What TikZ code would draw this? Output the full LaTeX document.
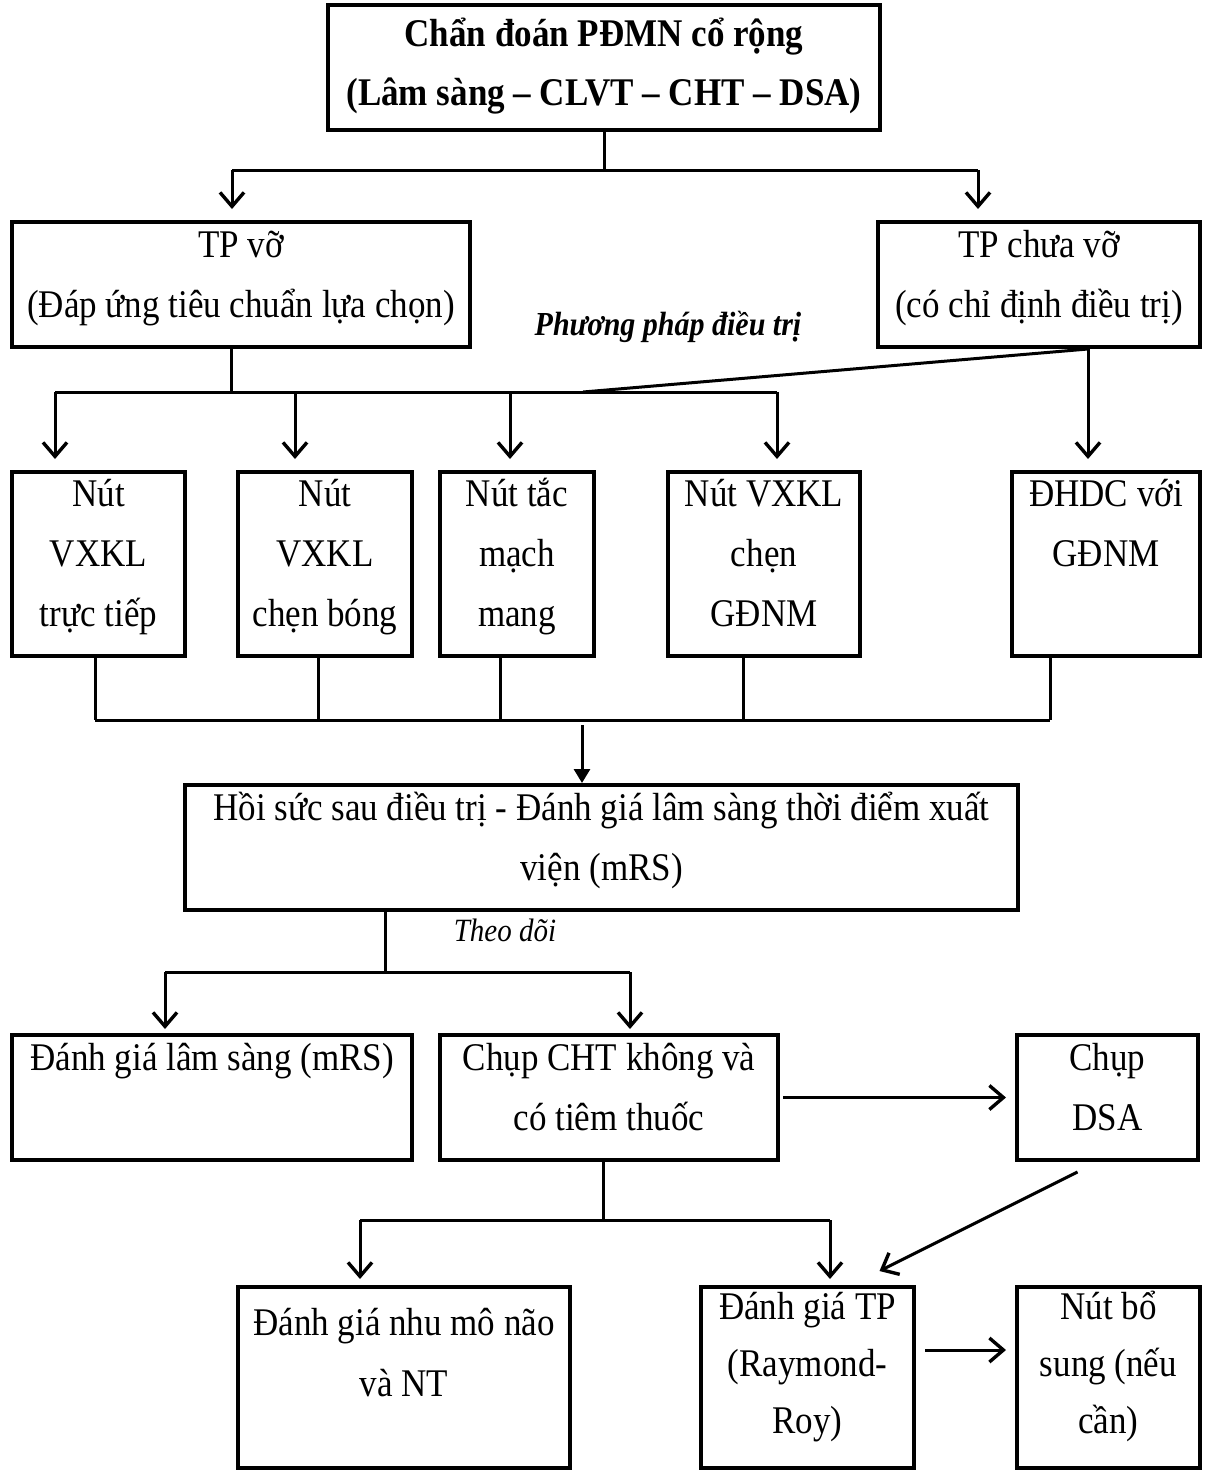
\documentclass[tikz,border=0pt]{standalone}
\usepackage{fontspec}
\usepackage{graphicx}
\setmainfont{Liberation Serif}
\usetikzlibrary{arrows.meta,fit}
\newcommand\ml[2][60]{\scalebox{1}[1.12]{\vtop{\baselineskip=\dimexpr #1pt*100/112\relax\lineskiplimit=-100pt\halign{\hfil##\hfil\cr#2\crcr}}}}
\tikzset{
  box/.style={draw, line width=4pt, inner sep=0pt, outer sep=0pt},
  conn/.style={line width=3pt},
  arr/.style={conn, -{Straight Barb[length=14pt,width=24pt,line width=3.4pt]}, shorten >=13pt},
  farr/.style={conn, -{Triangle[length=14pt,width=16pt]}, shorten >=2pt},
  txt/.style={anchor=base, inner sep=0pt, font=\fontsize{35}{60}\selectfont},
}
\begin{document}
\begin{tikzpicture}[x=1pt,y=-1pt]
\useasboundingbox (0,0) rectangle (1214,1470);
% boxes
\node[box, fit={(328,5) (880,130)}] (top) {};
\node[box, fit={(12,222) (470,347)}] (tpv) {};
\node[box, fit={(878,222) (1200,347)}] (tpc) {};
\node[box, fit={(12,472) (185,656)}] (b1) {};
\node[box, fit={(238,472) (412,656)}] (b2) {};
\node[box, fit={(440,472) (594,656)}] (b3) {};
\node[box, fit={(668,472) (860,656)}] (b4) {};
\node[box, fit={(1012,472) (1200,656)}] (b5) {};
\node[box, fit={(185,785) (1018,910)}] (hs) {};
\node[box, fit={(12,1035) (412,1160)}] (ls) {};
\node[box, fit={(440,1035) (778,1160)}] (cht) {};
\node[box, fit={(1017,1035) (1198,1160)}] (dsa) {};
\node[box, fit={(238,1287) (570,1468)}] (nm) {};
\node[box, fit={(701,1287) (914,1468)}] (tp) {};
\node[box, fit={(1017,1287) (1200,1468)}] (nbs) {};
% texts
\node[txt, font=\fontsize{35}{60}\selectfont\bfseries] (ttop) at (604,46) {\ml[59]{Chẩn đoán PĐMN cổ rộng\cr(Lâm sàng – CLVT – CHT – DSA)}};
\node[txt] (ttpv) at (241,257) {\ml{TP vỡ\cr(Đáp ứng tiêu chuẩn lựa chọn)}};
\node[txt] (ttpc) at (1039,257) {\ml{TP chưa vỡ\cr(có chỉ định điều trị)}};
\node[txt, font=\fontsize{30}{36}\selectfont\bfseries\itshape] (tpp) at (668,335) {\ml{Phương pháp điều trị}};
\node[txt] (tb1) at (98.5,506) {\ml{Nút\cr VXKL\cr trực tiếp}};
\node[txt] (tb2) at (325,506) {\ml{Nút\cr VXKL\cr chẹn bóng}};
\node[txt] (tb3) at (517,506) {\ml{Nút tắc\cr mạch\cr mang}};
\node[txt] (tb4) at (764,506) {\ml{Nút VXKL\cr chẹn\cr GĐNM}};
\node[txt] (tb5) at (1106,506) {\ml{ĐHDC với\cr GĐNM}};
\node[txt] (ths) at (601.5,820) {\ml{Hồi sức sau điều trị - Đánh giá lâm sàng thời điểm xuất\cr viện (mRS)}};
\node[txt, font=\fontsize{29}{36}\selectfont\itshape] (ttd) at (505,941) {\ml{Theo dõi}};
\node[txt] (tls) at (212,1070) {\ml{Đánh giá lâm sàng (mRS)}};
\node[txt] (tcht) at (609,1070) {\ml{Chụp CHT không và\cr có tiêm thuốc}};
\node[txt] (tdsa) at (1107.5,1070) {\ml{Chụp\cr DSA}};
\node[txt] (tnm) at (404,1335) {\ml[61]{Đánh giá nhu mô não\cr và NT}};
\node[txt] (ttp) at (807.5,1319) {\ml[57]{Đánh giá TP\cr(Raymond-\cr Roy)}};
\node[txt] (tnbs) at (1108.5,1319) {\ml[57]{Nút bổ\cr sung (nếu\cr cần)}};
% connectors: top level
\coordinate (j0) at (604,170);
\coordinate (jL) at (232,170);
\coordinate (jR) at (978,170);
\draw[conn] (top.south) -- (j0);
\draw[conn] (jL) -- (jR);
\draw[arr] (jL) -- (jL |- tpv.north);
\draw[arr] (jR) -- (jR |- tpc.north);
% treatment level
\coordinate (k0) at (231,392);
\coordinate (k1) at (55,392);
\coordinate (k2) at (295,392);
\coordinate (k3) at (510,392);
\coordinate (k4) at (777,392);
\coordinate (ks) at (583,392);
\coordinate (m0) at (1088,349);
\draw[conn] (k0 |- tpv.south) -- (k0);
\draw[conn] (k1) -- (k4);
\draw[conn] (m0) -- (ks);
\draw[arr] (k1) -- (k1 |- b1.north);
\draw[arr] (k2) -- (k2 |- b2.north);
\draw[arr] (k3) -- (k3 |- b3.north);
\draw[arr] (k4) -- (k4 |- b4.north);
\draw[arr] (m0 |- tpc.south) -- (m0 |- b5.north);
% merge to recovery
\coordinate (p1) at (95,720);
\coordinate (p2) at (318,720);
\coordinate (p3) at (500,720);
\coordinate (p4) at (743,720);
\coordinate (p5) at (1050,720);
\coordinate (q0) at (582,720);
\draw[conn] (p1 |- b1.south) -- (p1);
\draw[conn] (p2 |- b2.south) -- (p2);
\draw[conn] (p3 |- b3.south) -- (p3);
\draw[conn] (p4 |- b4.south) -- (p4);
\draw[conn] (p5 |- b5.south) -- (p5);
\draw[conn] (p1) -- (p5);
\draw[farr] ([yshift=-5pt]q0) -- (q0 |- hs.north);
% follow-up
\coordinate (r0) at (385,972);
\coordinate (rL) at (165,972);
\coordinate (rR) at (630,972);
\draw[conn] (r0 |- hs.south) -- (r0);
\draw[conn] (rL) -- (rR);
\draw[arr, shorten >=6pt] (rL) -- (rL |- ls.north);
\draw[arr, shorten >=6pt] (rR) -- (rR |- cht.north);
\draw[arr, shorten >=11pt] ([xshift=5pt]cht.east) -- (dsa.west);
% imaging results
\coordinate (t0) at (603,1220);
\coordinate (tL) at (360,1220);
\coordinate (tR) at (830,1220);
\draw[conn] (t0 |- cht.south) -- (t0);
\draw[conn] (tL) -- (tR);
\draw[arr, shorten >=8pt] (tL) -- (tL |- nm.north);
\draw[arr, shorten >=8pt] (tR) -- (tR |- tp.north);
\draw[arr, shorten >=0pt] ([shift={(-30,12)}]dsa.south) -- ([shift={(72,-16)}]tp.north);
\coordinate (v0) at (925,1350);
\draw[arr, shorten >=11pt] (v0) -- (v0 -| nbs.west);
\end{tikzpicture}
\end{document}
